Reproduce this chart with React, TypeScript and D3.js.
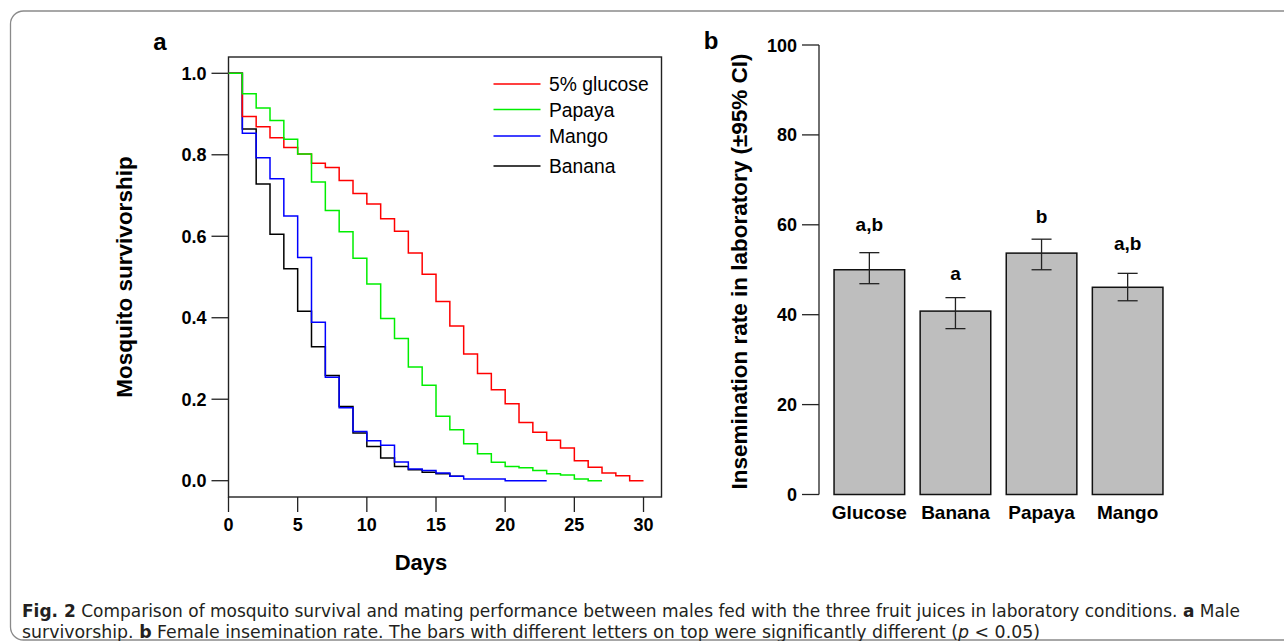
import React from "react";
import * as d3 from "d3";

// ---- Panel a: survival (value from day i to day i+1) ----
const glucoseSurv = [1.0, 0.894, 0.869, 0.842, 0.818, 0.802, 0.779, 0.769, 0.737, 0.705, 0.679, 0.643, 0.612, 0.559, 0.507, 0.44, 0.38, 0.311, 0.263, 0.223, 0.189, 0.143, 0.119, 0.099, 0.08, 0.049, 0.033, 0.019, 0.012, 0.0];
const papayaSurv = [1.0, 0.95, 0.915, 0.884, 0.838, 0.802, 0.733, 0.663, 0.611, 0.546, 0.483, 0.398, 0.349, 0.279, 0.234, 0.158, 0.125, 0.091, 0.066, 0.045, 0.035, 0.032, 0.025, 0.017, 0.014, 0.004, 0.0];
const mangoSurv = [1.0, 0.853, 0.793, 0.741, 0.65, 0.548, 0.389, 0.254, 0.179, 0.121, 0.098, 0.087, 0.046, 0.029, 0.025, 0.019, 0.011, 0.004, 0.004, 0.004, 0.0, 0.0, 0.0];
const bananaSurv = [1.0, 0.863, 0.728, 0.605, 0.52, 0.416, 0.329, 0.258, 0.182, 0.117, 0.084, 0.056, 0.035, 0.027, 0.021, 0.017, 0.011];
const legendNames = ["5% glucose", "Papaya", "Mango", "Banana"];
const legendColors = ["#ff0000", "#00ee00", "#0000ff", "#000000"];
const dayTicks = [0, 5, 10, 15, 20, 25, 30];
const survTicks = [0, 0.2, 0.4, 0.6, 0.8, 1.0];

// ---- Panel b: insemination rate ----
const barCategories = ["Glucose", "Banana", "Papaya", "Mango"];
const barValues = [50.0, 40.8, 53.7, 46.1];
const ciLower = [46.9, 36.9, 50.0, 43.1];
const ciUpper = [53.8, 43.8, 56.8, 49.2];
const sigLetters = ["a,b", "a", "b", "a,b"];
const letterLevels = [58.6, 47.7, 60.3, 54.3];
const rateTicks = [0, 20, 40, 60, 80, 100];

const FONT = "'Liberation Sans', Arial, Helvetica, sans-serif";
const CAP_FONT = "'Liberation Sans Narrow', 'DejaVu Sans Condensed', 'Open Sans', sans-serif";

export default function App() {
  // panel a scales
  const x = d3.scaleLinear().domain([0, 31.3]).range([228.5, 661.5]);
  const y = d3.scaleLinear().domain([-0.04, 1.04]).range([497, 57]);
  const line = d3
    .line<[number, number]>()
    .x((d) => x(d[0]))
    .y((d) => y(d[1]))
    .curve(d3.curveStepAfter);
  const toPts = (v: number[]): [number, number][] => {
    const p: [number, number][] = v.map((val, i) => [i, val]);
    p.push([v.length, v[v.length - 1]]);
    return p;
  };
  const drawOrder = [
    { data: bananaSurv, color: legendColors[3] },
    { data: mangoSurv, color: legendColors[2] },
    { data: glucoseSurv, color: legendColors[0] },
    { data: papayaSurv, color: legendColors[1] },
  ];

  // panel b scales
  const yb = d3.scaleLinear().domain([0, 100]).range([494.5, 45]);
  const xb = d3
    .scaleBand<string>()
    .domain(barCategories)
    .range([826.3, 1170.7])
    .paddingInner(0.18)
    .paddingOuter(0.09);
  const bw = xb.bandwidth();

  return (
    <svg
      width={1284}
      height={641}
      style={{ position: "absolute", left: 0, top: 0, background: "#fff" }}
      fontFamily={FONT}
    >
      <rect x={0} y={0} width={1284} height={641} fill="#fff" />
      {/* frame */}
      <rect x={10.5} y={11} width={1320} height={629} rx={13} fill="none" stroke="#8a8a8a" strokeWidth={1.3} />

      {/* ===== Panel a ===== */}
      <text x={160} y={50} fontSize={24} fontWeight="bold" textAnchor="middle">a</text>
      <rect x={x(0)} y={57} width={x(31.3) - x(0)} height={440} fill="none" stroke="#222" strokeWidth={1.4} />
      {survTicks.map((t) => (
        <g key={"ya" + t}>
          <line x1={x(0) - 17} x2={x(0)} y1={y(t)} y2={y(t)} stroke="#222" strokeWidth={1.3} />
          <text x={x(0) - 22} y={y(t) + 6.5} fontSize={18} fontWeight="bold" textAnchor="end">
            {t.toFixed(1)}
          </text>
        </g>
      ))}
      {dayTicks.map((t) => (
        <g key={"xa" + t}>
          <line x1={x(t)} x2={x(t)} y1={497} y2={512} stroke="#222" strokeWidth={1.3} />
          <text x={x(t)} y={531} fontSize={18} fontWeight="bold" textAnchor="middle">
            {t}
          </text>
        </g>
      ))}
      {drawOrder.map((s, i) => (
        <path key={"s" + i} d={line(toPts(s.data)) || ""} fill="none" stroke={s.color} strokeWidth={1.5} />
      ))}
      {legendNames.map((n, i) => {
        const ly = [84, 109.5, 136, 166][i];
        return (
          <g key={"lg" + n}>
            <line x1={493.5} x2={540.5} y1={ly} y2={ly} stroke={legendColors[i]} strokeWidth={1.4} />
            <text x={549} y={ly + 7} fontSize={19.3}>{n}</text>
          </g>
        );
      })}
      <text transform={`translate(132,277) rotate(-90)`} fontSize={22.5} fontWeight="bold" textAnchor="middle">
        Mosquito survivorship
      </text>
      <text x={421} y={570} fontSize={22} fontWeight="bold" textAnchor="middle">Days</text>

      {/* ===== Panel b ===== */}
      <text x={711} y={49} fontSize={24} fontWeight="bold" textAnchor="middle">b</text>
      <line x1={819} x2={819} y1={yb(0)} y2={yb(100)} stroke="#222" strokeWidth={1.3} />
      {rateTicks.map((t) => (
        <g key={"yb" + t}>
          <line x1={802} x2={819} y1={yb(t)} y2={yb(t)} stroke="#222" strokeWidth={1.3} />
          <text x={797} y={yb(t) + 6.5} fontSize={18} fontWeight="bold" textAnchor="end">{t}</text>
        </g>
      ))}
      {barCategories.map((c, i) => {
        const bx = xb(c) as number;
        const cx = bx + bw / 2;
        return (
          <g key={"bar" + c}>
            <rect x={bx} y={yb(barValues[i])} width={bw} height={yb(0) - yb(barValues[i])} fill="#bebebe" stroke="#111" strokeWidth={1.5} />
            <line x1={cx} x2={cx} y1={yb(ciLower[i])} y2={yb(ciUpper[i])} stroke="#222" strokeWidth={1.3} />
            <line x1={cx - 10} x2={cx + 10} y1={yb(ciLower[i])} y2={yb(ciLower[i])} stroke="#222" strokeWidth={1.3} />
            <line x1={cx - 10} x2={cx + 10} y1={yb(ciUpper[i])} y2={yb(ciUpper[i])} stroke="#222" strokeWidth={1.3} />
            <text x={cx} y={yb(letterLevels[i])} fontSize={19} fontWeight="bold" textAnchor="middle">{sigLetters[i]}</text>
            <text x={cx} y={519} fontSize={19} fontWeight="bold" textAnchor="middle">{c}</text>
          </g>
        );
      })}
      <text transform={`translate(747,271.5) rotate(-90)`} fontSize={22.5} fontWeight="bold" textAnchor="middle">
        Insemination rate in laboratory (±95% CI)
      </text>

      {/* ===== caption ===== */}
      <text x={22} y={617} fontSize={17} fontFamily={CAP_FONT} fill="#231f20" textLength={1218} lengthAdjust="spacingAndGlyphs">
        <tspan fontWeight="bold">Fig. 2</tspan>
        <tspan>{"  Comparison of mosquito survival and mating performance between males fed with the three fruit juices in laboratory conditions. "}</tspan>
        <tspan fontWeight="bold">a</tspan>
        <tspan> Male</tspan>
      </text>
      <text x={22} y={638} fontSize={17} fontFamily={CAP_FONT} fill="#231f20" textLength={1018} lengthAdjust="spacingAndGlyphs">
        <tspan>survivorship. </tspan>
        <tspan fontWeight="bold">b</tspan>
        <tspan> Female insemination rate. The bars with different letters on top were significantly different (</tspan>
        <tspan fontStyle="italic">p</tspan>
        <tspan>{" < 0.05)"}</tspan>
      </text>
    </svg>
  );
}
